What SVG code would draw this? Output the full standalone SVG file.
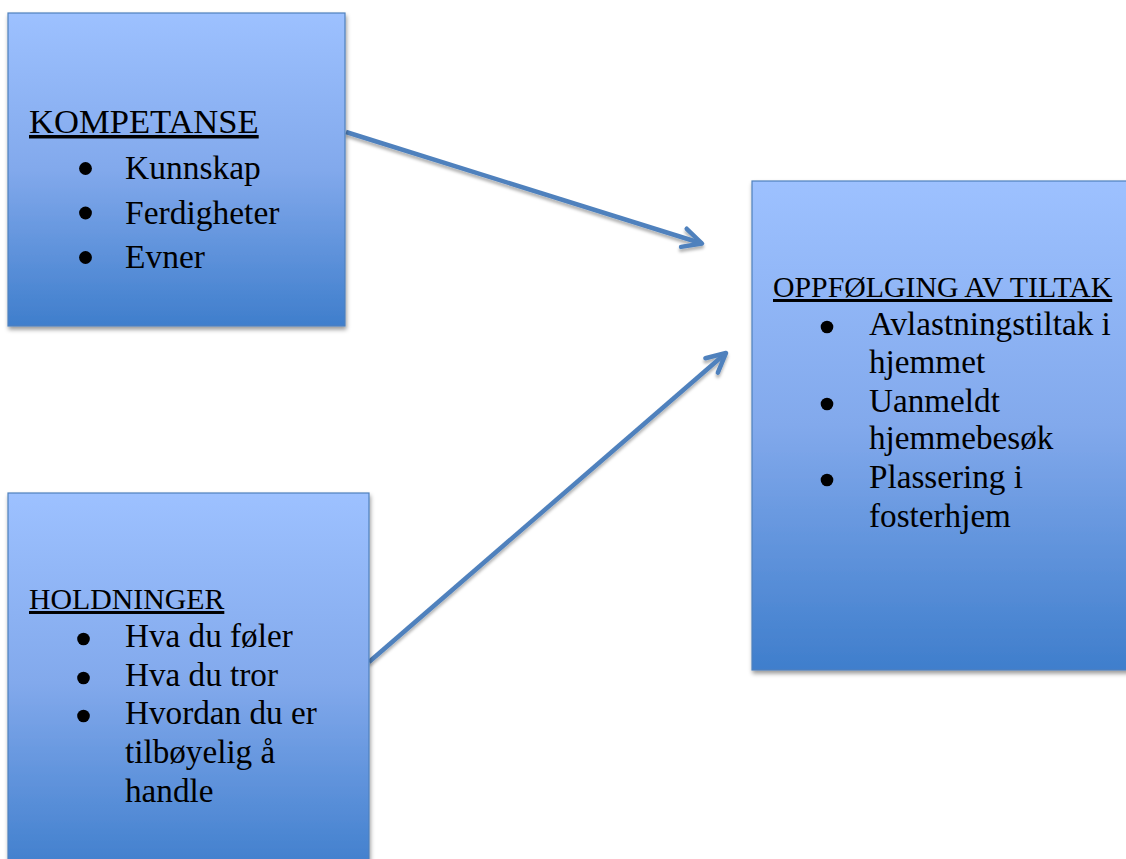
<svg xmlns="http://www.w3.org/2000/svg" width="1126" height="859" viewBox="0 0 1126 859">
<defs>
<linearGradient id="g" x1="0" y1="0" x2="0" y2="1">
<stop offset="0" stop-color="#9DC1FF"/>
<stop offset="0.5" stop-color="#82A9EC"/>
<stop offset="1" stop-color="#3F7ECC"/>
</linearGradient>
<filter id="sh" x="-10%" y="-10%" width="130%" height="130%">
<feDropShadow dx="1" dy="3" stdDeviation="2.2" flood-color="#000" flood-opacity="0.4"/>
</filter>
<filter id="ash" x="-10%" y="-20%" width="130%" height="150%">
<feDropShadow dx="0" dy="3" stdDeviation="1.5" flood-color="#000" flood-opacity="0.3"/>
</filter>
<marker id="arr" markerUnits="userSpaceOnUse" markerWidth="40" markerHeight="40" viewBox="-30 -20 40 40" refX="0" refY="0" orient="auto">
<path d="M-19,-9.5 L0,0 L-19,9.5" fill="none" stroke="#4F81BD" stroke-width="4.5" stroke-linecap="round" stroke-linejoin="round"/>
</marker>
</defs>
<style>
.box{fill:url(#g);stroke:#4F81BD;stroke-width:1.2;filter:url(#sh)}
text{font-family:"Liberation Serif","Times New Roman",serif;fill:#000}
.t1{font-size:34.6px;text-decoration:underline}
.t2{font-size:29.8px;text-decoration:underline}
.b1{font-size:33.5px}
.b2{font-size:33.2px}
.dot{fill:#000}
.conn{stroke:#4F81BD;stroke-width:4.5;fill:none;marker-end:url(#arr);filter:url(#ash)}
</style>
<rect width="1126" height="859" fill="#fff"/>
<g id="connectors">
<line class="conn" x1="346" y1="132" x2="702" y2="243.5"/>
<line class="conn" x1="369" y1="662" x2="726" y2="353"/>
</g>
<g id="kompetanse">
<rect class="box" x="8" y="13" width="337" height="313"/>
<text class="t1" x="29" y="133">KOMPETANSE</text>
<circle class="dot" cx="85.5" cy="168.5" r="6.4"/>
<circle class="dot" cx="85.5" cy="213" r="6.4"/>
<circle class="dot" cx="85.5" cy="257.5" r="6.4"/>
<text class="b1" x="125" y="179">Kunnskap</text>
<text class="b1" x="125" y="223.5">Ferdigheter</text>
<text class="b1" x="125" y="268">Evner</text>
</g>
<g id="holdninger">
<rect class="box" x="8" y="493" width="361" height="380"/>
<text class="t2" x="29" y="609">HOLDNINGER</text>
<circle class="dot" cx="83.5" cy="639" r="6.3"/>
<circle class="dot" cx="83.5" cy="678" r="6.3"/>
<circle class="dot" cx="83.5" cy="716" r="6.3"/>
<text class="b2" x="125" y="647">Hva du føler</text>
<text class="b2" x="125" y="686">Hva du tror</text>
<text class="b2" x="125" y="724">Hvordan du er</text>
<text class="b2" x="125" y="763">tilbøyelig å</text>
<text class="b2" x="125" y="802">handle</text>
</g>
<g id="oppfolging">
<rect class="box" x="752" y="181" width="390" height="489"/>
<text class="t2" x="773" y="297">OPPFØLGING AV TILTAK</text>
<circle class="dot" cx="827" cy="327" r="6.3"/>
<circle class="dot" cx="827" cy="404" r="6.3"/>
<circle class="dot" cx="827" cy="480" r="6.3"/>
<text class="b2" x="869" y="335">Avlastningstiltak i</text>
<text class="b2" x="869" y="373">hjemmet</text>
<text class="b2" x="869" y="412">Uanmeldt</text>
<text class="b2" x="869" y="449">hjemmebesøk</text>
<text class="b2" x="869" y="488">Plassering i</text>
<text class="b2" x="869" y="527">fosterhjem</text>
</g>
</svg>
